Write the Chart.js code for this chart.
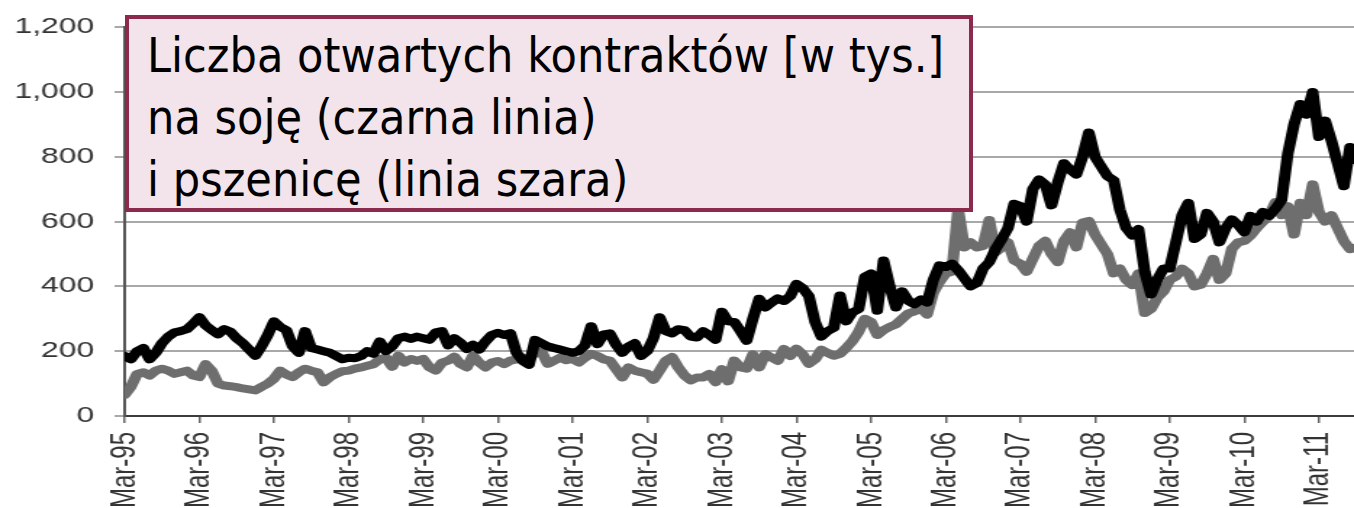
<!DOCTYPE html>
<html>
<head>
<meta charset="utf-8">
<script src="https://cdn.jsdelivr.net/npm/chart.js@4.4.1/dist/chart.umd.min.js"></script>
<style>
html, body { margin: 0; padding: 0; background: #fff; overflow: hidden; }
#wrap { position: relative; width: 1354px; height: 508px; }
#chart { position: absolute; left: 0; top: 0; }
#note {
    position: absolute; left: 125px; top: 15px; width: 848px; height: 197px;
    box-sizing: border-box; border: 4px solid #8b2a4c; background: #f3e4ec;
    padding: 5px 0 0 18px; color: #000;
    font-family: "DejaVu Sans Condensed", "Liberation Sans Narrow", "DejaVu Sans", sans-serif;
    font-stretch: condensed; font-size: 48px; line-height: 62px; white-space: nowrap;
}
</style>
</head>
<body>
<div id="wrap">
    <!-- the source picture is stretched sideways, so the canvas is drawn narrow and widened by css -->
    <canvas id="chart" width="934" height="508" style="width:1354px;height:508px"></canvas>
    <div id="note">Liczba otwartych kontraktów [w tys.]<br>na soję (czarna linia)<br>i pszenicę (linia szara)</div>
</div>
<script>
// x tick labels, one per year (March)
const yearLabels = ["Mar-95", "Mar-96", "Mar-97", "Mar-98", "Mar-99", "Mar-00", "Mar-01", "Mar-02",
    "Mar-03", "Mar-04", "Mar-05", "Mar-06", "Mar-07", "Mar-08", "Mar-09", "Mar-10", "Mar-11"];
const yTickLabels = ["0", "200", "400", "600", "800", "1,000", "1,200"];

// monthly open interest [thousands], first value = Mar-95
const soyValues = [
    185, 175, 200, 210, 175, 195, 225, 245, 258, 262, 268, 285,
    305, 280, 265, 252, 268, 260, 240, 225, 205, 186, 215, 250,
    292, 275, 265, 215, 195, 262, 210, 205, 200, 195, 185, 175,
    180, 178, 185, 200, 192, 230, 200, 215, 240, 245, 238, 245,
    240, 235, 258, 262, 218, 240, 226, 207, 220, 205, 230, 250,
    257, 250, 256, 195, 170, 158, 235, 225, 215, 210, 205, 200,
    195, 200, 218, 277, 222, 252, 255, 220, 195, 215, 225, 185,
    200, 240, 305, 262, 255, 268, 265, 245, 242, 262, 250, 235,
    322, 292, 290, 262, 232, 300, 362, 335, 350, 363, 355, 370,
    408, 395, 370, 290, 245, 262, 272, 372, 292, 320, 330, 430,
    440, 325, 480, 400, 335, 385, 355, 345, 360, 350, 420, 465,
    460, 470, 450, 425, 400, 410, 455, 475, 515, 546, 580, 655,
    648, 600, 700, 730, 715, 650, 720, 780, 760, 745, 800, 875,
    800, 770, 740, 728, 637, 580, 557, 577, 445, 375, 420, 455,
    455, 536, 620, 658, 546, 560, 627, 600, 536, 580, 607, 590,
    567, 618, 600, 630, 618, 640, 667, 810, 900, 963, 930, 1000,
    861, 912, 850, 780, 709, 830, 790
];
const wheatValues = [
    65, 90, 130, 135, 125, 140, 146, 140, 130, 135, 140, 125,
    120, 160, 140, 100, 94, 92, 89, 85, 82, 79, 90, 100,
    115, 140, 128, 120, 135, 146, 140, 135, 104, 120, 130, 138,
    140, 146, 150, 155, 160, 175, 180, 152, 186, 165, 176, 170,
    176, 150, 140, 165, 171, 183, 160, 150, 186, 165, 150, 165,
    170, 160, 171, 175, 180, 178, 195, 200, 161, 170, 180, 172,
    176, 165, 180, 192, 185, 175, 171, 145, 119, 150, 140, 135,
    131, 112, 140, 171, 182, 150, 125, 110, 119, 119, 130, 104,
    145, 107, 171, 150, 146, 190, 150, 191, 180, 170, 207, 185,
    208, 190, 161, 175, 205, 195, 186, 192, 210, 231, 260, 300,
    290, 250, 265, 275, 283, 300, 317, 323, 333, 313, 380, 414,
    440, 445, 640, 520, 536, 520, 525, 605, 505, 520, 536, 480,
    470, 445, 485, 525, 541, 500, 475, 540, 567, 520, 597, 602,
    560, 530, 500, 440, 455, 420, 404, 440, 318, 330, 365, 384,
    420, 430, 455, 440, 400, 405, 440, 485, 420, 440, 516, 536,
    540, 557, 580, 600, 618, 660, 620, 648, 560, 658, 620, 715,
    630, 600, 620, 580, 540, 515, 520
];

const tickFont = { family: '"Liberation Sans", Arial, sans-serif', size: 22 };

// x = years since Mar-95
function toPoints(values) {
    return values.map((v, i) => ({ x: i / 12, y: v }));
}

new Chart(document.getElementById("chart"), {
    type: "line",
    data: {
        datasets: [
            {
                label: "soja",
                data: toPoints(soyValues),
                borderColor: "#000",
                borderWidth: 8,
                pointRadius: 0,
                borderJoinStyle: "round",
                borderCapStyle: "round"
            },
            {
                label: "pszenica",
                data: toPoints(wheatValues),
                borderColor: "#6e6e6e",
                borderWidth: 8,
                pointRadius: 0,
                borderJoinStyle: "round",
                borderCapStyle: "round"
            }
        ]
    },
    options: {
        responsive: false,
        animation: false,
        devicePixelRatio: 1,
        layout: { padding: { top: 22, right: 0, bottom: 0, left: 0 } },
        plugins: { legend: { display: false }, tooltip: { enabled: false } },
        scales: {
            x: {
                type: "linear",
                min: 0,
                max: 16.47,
                // one tick per year label, no extra tick at the cut-off edge
                afterBuildTicks: s => { s.ticks = yearLabels.map((_, i) => ({ value: i })); },
                afterFit: s => {
                    s.height = 92;
                    s.paddingLeft = 0;
                    s.paddingRight = 0;
                },
                border: { display: true, color: "#3c3c3c", width: 2 },
                grid: { drawOnChartArea: false, drawTicks: true, tickLength: 7, color: "#666", lineWidth: 1.5 },
                ticks: {
                    autoSkip: false,
                    minRotation: 90,
                    maxRotation: 90,
                    padding: 9,
                    color: "#333",
                    font: { family: tickFont.family, size: 24 },
                    callback: v => yearLabels[v]
                }
            },
            y: {
                min: 0,
                max: 1200,
                afterFit: s => { s.width = 86; },
                border: { display: true, color: "#555", width: 2 },
                grid: { color: "#a8a8a8", lineWidth: 2, tickLength: 7 },
                ticks: {
                    stepSize: 200,
                    padding: 14,
                    color: "#333",
                    font: tickFont,
                    callback: v => yTickLabels[v / 200]
                }
            }
        }
    }
});
</script>
</body>
</html>
